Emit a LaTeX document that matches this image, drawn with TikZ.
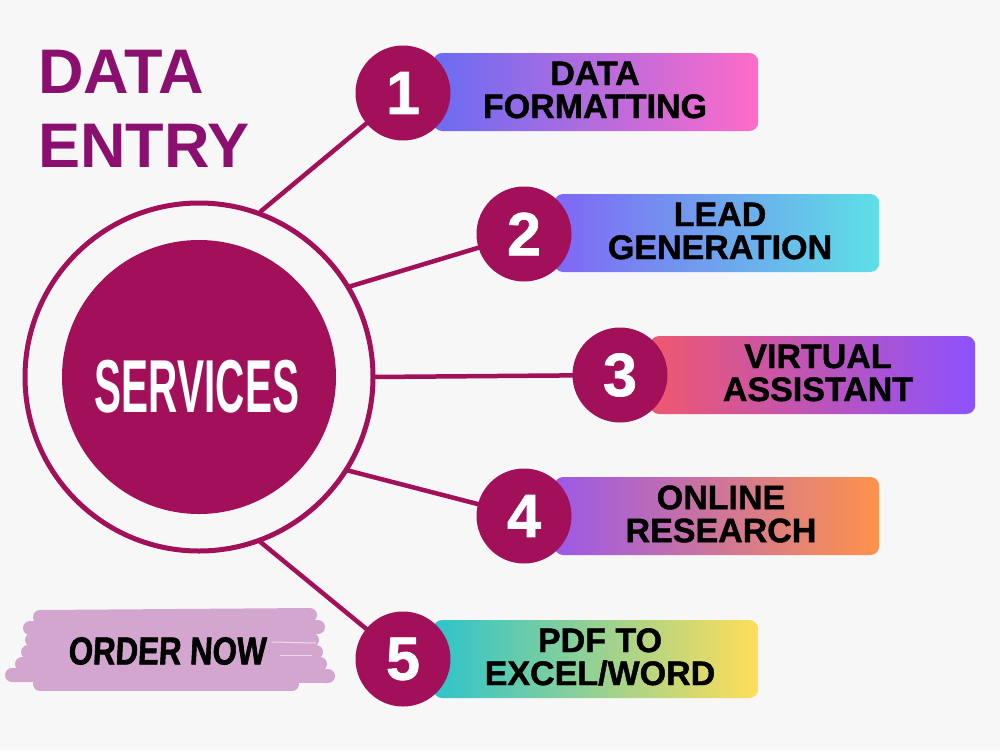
\documentclass[tikz,border=0pt]{standalone}
\usepackage{fontspec}
\usepackage{graphicx}
\setmainfont{Liberation Sans}
\newfontfamily\condfont[FakeStretch=0.54]{Liberation Sans}
\newfontfamily\heavyfont[FakeBold=1.2]{Liberation Sans}
\newfontfamily\brushfont[FakeStretch=0.8,FakeSlant=0.05,FakeBold=1.5]{Liberation Sans}
\definecolor{bg}{HTML}{F7F7F7}
\definecolor{mag}{HTML}{A3105A}
\definecolor{ttl}{HTML}{8B0F6E}
\definecolor{brush}{HTML}{D3A6CF}
\definecolor{aL}{HTML}{6A6CF2}\definecolor{aR}{HTML}{FF6BC9}
\definecolor{bL}{HTML}{8066F5}\definecolor{bR}{HTML}{5DE0E6}
\definecolor{cL}{HTML}{F0576E}\definecolor{cR}{HTML}{8C52FF}
\definecolor{dL}{HTML}{9C59E8}\definecolor{dR}{HTML}{FF924B}
\definecolor{eL}{HTML}{2DC4CB}\definecolor{eR}{HTML}{FFDE59}
\tikzset{
  conn/.style={draw=mag, line width=4.5pt},
  numc/.style={circle, fill=mag, minimum size=95pt, inner sep=0pt, text=white,
    font=\heavyfont\fontsize{61}{61}\selectfont\bfseries},
  gbox/.style={rectangle, rounded corners=9pt, minimum width=325pt, minimum height=78pt,
    inner sep=0pt, anchor=west},
  boxtxt/.style={align=center, inner sep=0pt, text=black,
    font=\heavyfont\fontsize{34}{33}\selectfont\bfseries},
  brushstroke/.style={draw=brush, line width=14pt, line cap=round},
  title/.style={anchor=base west, inner sep=0pt, text=ttl,
    font=\fontsize{63}{63}\selectfont\bfseries}
}
\begin{document}
\begin{tikzpicture}[x=1pt,y=-1pt]
\fill[bg] (0,0) rectangle (1000,750);
\useasboundingbox (0,0) rectangle (1000,750);

% title
\node[title] (t1) at (38,93) {DATA};
\node[title] (t2) at (38,167) {ENTRY};

% brush behind ORDER NOW
\draw[brushstroke] (40,617) -- (310,615);
\draw[brushstroke] (30,628) -- (318,627);
\draw[brushstroke] (32,640) -- (312,640);
\draw[brushstroke] (28,652) -- (316,652);
\draw[brushstroke] (22,664) -- (320,664);
\draw[brushstroke] (12,675) -- (328,676);
\draw[brushstroke] (40,684) -- (292,684);
\draw[white!60!brush, line width=1pt, line cap=round] (272,642) -- (316,643);
\draw[white!60!brush, line width=0.8pt, line cap=round] (280,655) -- (312,655);
\node[inner sep=0pt, text=black, font=\brushfont\fontsize{39}{39}\selectfont\bfseries]
  (order) at (167,651) {ORDER NOW};

% ring points
\coordinate (r1) at (260,212);
\coordinate (r2) at (348,287);
\coordinate (r3) at (373,377);
\coordinate (r4) at (346,470);
\coordinate (r5) at (258,540);

% number circle centres
\coordinate (c1) at (403,93);
\coordinate (c2) at (524,234);
\coordinate (c3) at (620,375);
\coordinate (c4) at (524,516);
\coordinate (c5) at (403,659);

% connectors
\draw[conn] (r1) -- (c1);
\draw[conn] (r2) -- (c2);
\draw[conn] (r3) -- (c3);
\draw[conn] (r4) -- (c4);
\draw[conn] (r5) -- (c5);

% ring and centre circle
\node[circle, draw=mag, line width=5pt, minimum size=348pt, inner sep=0pt] (ring) at (199,377) {};
\node[circle, fill=mag, minimum size=274pt, inner sep=0pt] (core) at (199,377) {};
\node[anchor=base, inner sep=0pt, text=white, font=\condfont\fontsize{75}{75}\selectfont\bfseries]
  (svc) at (197,412) {SERVICES};

% gradient boxes
\node[gbox, left color=aL, right color=aR] (b1) at (433,92) {};
\node[gbox, left color=bL, right color=bR] (b2) at (554,233) {};
\node[gbox, left color=cL, right color=cR] (b3) at (650,375) {};
\node[gbox, left color=dL, right color=dR] (b4) at (554,516) {};
\node[gbox, left color=eL, right color=eR] (b5) at (433,659) {};

% number circles
\node[numc] (n1) at (c1) {1};
\node[numc] (n2) at (c2) {2};
\node[numc] (n3) at (c3) {3};
\node[numc] (n4) at (c4) {4};
\node[numc] (n5) at (c5) {5};

% box labels
\node[boxtxt] (l1) at (595,90) {DATA\\FORMATTING};
\node[boxtxt] (l2) at (720,231) {LEAD\\GENERATION};
\node[boxtxt] (l3) at (818,373) {VIRTUAL\\ASSISTANT};
\node[boxtxt] (l4) at (721,514) {ONLINE\\RESEARCH};
\node[boxtxt] (l5) at (600,657) {PDF TO\\EXCEL/WORD};
\end{tikzpicture}
\end{document}
